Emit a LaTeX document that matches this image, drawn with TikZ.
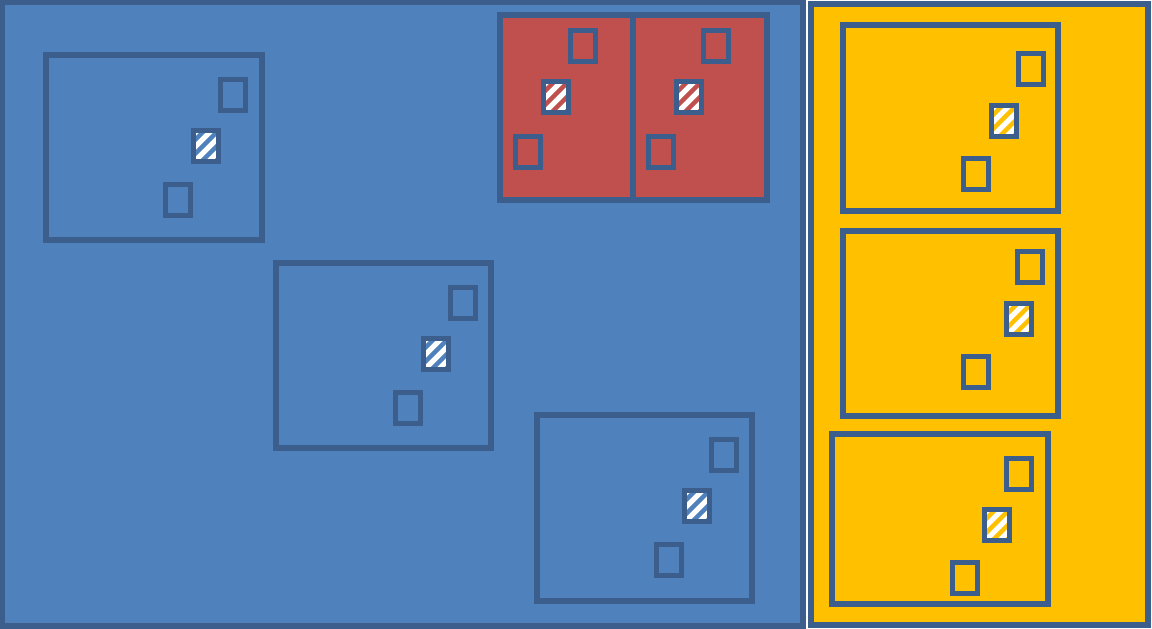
\documentclass[tikz,border=0pt]{standalone}
\usepackage{tikz}
\usetikzlibrary{positioning, calc}
\definecolor{areablue}{HTML}{4F81BD}
\definecolor{areared}{HTML}{C0504D}
\definecolor{areayellow}{HTML}{FFC000}
\definecolor{edgeblue}{HTML}{3B5E8C}
\begin{document}
\begin{tikzpicture}[
			x=1pt, y=-1pt,
			areabox/.style={
				draw=edgeblue, line width=5.5pt, anchor=north west, inner sep=0pt, outer sep=0pt
			},
			groupbox/.style={
				draw=edgeblue, line width=5.5pt, anchor=north west, inner sep=0pt, outer sep=0pt
			},
			cellbox/.style={
				draw=edgeblue, line width=5.5pt, inner sep=0pt, outer sep=0pt,
				minimum width=25pt, minimum height=31pt
			},
			hatchbox/.style={
				cellbox, fill=white,
				path picture={
					\foreach \o in {-34,-20,-6,8,22} {
						\draw[#1, line width=4.5pt]
						([xshift=\o pt]path picture bounding box.south west) -- ++(40pt,40pt);
					}
				}
			}
			]
			\useasboundingbox (0,0) rectangle (1152,629);
			
			% 1. BIG AREAS
			\node[areabox, fill=areablue, minimum width=801, minimum height=624] (blue) at (2,2) {};
			\node[areabox, fill=areayellow, minimum width=337, minimum height=621] (yellow) at (811,4) {};
			
			% 2. BLUE GROUPS
			\node[groupbox, minimum width=216, minimum height=185] (grpA) at (46,55) {};
			\node[groupbox, minimum width=215, minimum height=185] (grpB) at (276,263) {};
			\node[groupbox, minimum width=215, minimum height=186] (grpC) at (537,415) {};
			\foreach \g in {grpA, grpB, grpC} {
				\node[cellbox] (\g-top) at ($(\g.north west)+(187,40)$) {};
				\node[hatchbox=areablue] (\g-mid) at ($(\g.north west)+(160,91)$) {};
				\node[cellbox] (\g-bot) at ($(\g.north west)+(132,145)$) {};
			}
			
			% 3. RED PAIR
			\node[groupbox, fill=areared, minimum width=133, minimum height=185] (redL) at (500,15) {};
			\node[groupbox, fill=areared, minimum width=134, minimum height=185] (redR) at (redL.north east) {};
			\foreach \g in {redL, redR} {
				\node[cellbox] (\g-top) at ($(\g.north west)+(83,31)$) {};
				\node[hatchbox=areared] (\g-mid) at ($(\g.north west)+(56,82)$) {};
				\node[cellbox] (\g-bot) at ($(\g.north west)+(28,137)$) {};
			}
			
			% 4. YELLOW GROUPS
			\node[groupbox, minimum width=215, minimum height=186] (yelA) at (843,25) {};
			\node[groupbox, minimum width=215, minimum height=185] (yelB) at (843,231) {};
			\node[groupbox, minimum width=216, minimum height=170] (yelC) at (832,434) {};
			\node[cellbox] (yelA-top) at ($(yelA.north west)+(188,44)$) {};
			\node[hatchbox=areayellow] (yelA-mid) at ($(yelA.north west)+(161,96)$) {};
			\node[cellbox] (yelA-bot) at ($(yelA.north west)+(133,149)$) {};
			\node[cellbox] (yelB-top) at ($(yelB.north west)+(187,36)$) {};
			\node[hatchbox=areayellow] (yelB-mid) at ($(yelB.north west)+(176,88)$) {};
			\node[cellbox] (yelB-bot) at ($(yelB.north west)+(133,141)$) {};
			\node[cellbox] (yelC-top) at ($(yelC.north west)+(187,40)$) {};
			\node[hatchbox=areayellow] (yelC-mid) at ($(yelC.north west)+(165,91)$) {};
			\node[cellbox] (yelC-bot) at ($(yelC.north west)+(133,144)$) {};
		\end{tikzpicture}
\end{document}
